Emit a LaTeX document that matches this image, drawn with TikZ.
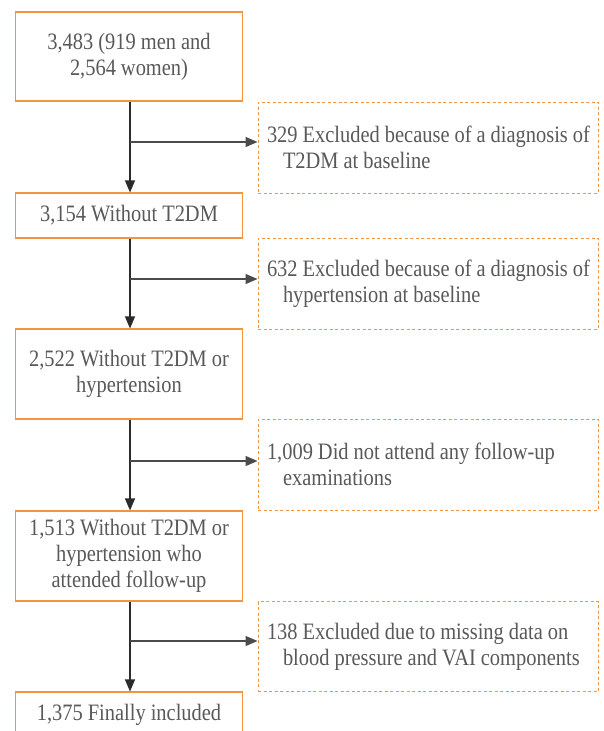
\documentclass[tikz,border=0pt]{standalone}
\usepackage{fontspec}
\setmainfont[FakeStretch=0.87]{Liberation Serif}
\usetikzlibrary{arrows.meta}
\definecolor{boxorange}{HTML}{F39440}
\definecolor{txtgray}{HTML}{595959}
\definecolor{arrowcol}{HTML}{2B2B2B}
\newcommand{\setsp}{\spaceskip=5pt\relax\xspaceskip=5pt\relax}
\begin{document}
\begin{tikzpicture}[x=1pt,y=-1pt,
  txtfont/.style={font=\fontsize{23.5}{26}\selectfont\setsp, text=txtgray},
  mainbox/.style={draw=boxorange, line width=1.1pt, txtfont, align=center,
    minimum width=227pt, inner sep=0pt},
  exclbox/.style={draw=boxorange, line width=1pt, dash pattern=on 3pt off 2.5pt,
    txtfont, align=left, text width=322pt, inner xsep=9pt, inner ysep=0pt,
    minimum width=340pt},
  flow/.style={draw=arrowcol, line width=1.2pt, -{Triangle[length=12pt,width=10pt]}},
  branch/.style={draw=arrowcol!85, line width=1.1pt, -{Triangle[length=12pt,width=10pt]}}
]
\clip (0,0) rectangle (604,731);
\fill[white] (0,0) rectangle (604,731);

% main boxes
\node[mainbox, minimum height=89pt] (b1) at (129,56.5) {\setsp 3,483 (919 men and\\\setsp 2,564 women)};
\node[mainbox, minimum height=45pt] (b2) at (129,215.5) {\setsp 3,154 Without T2DM};
\node[mainbox, minimum height=90pt] (b3) at (129,374) {\setsp 2,522 Without T2DM or\\hypertension};
\node[mainbox, minimum height=90pt] (b4) at (129,556) {\setsp 1,513 Without T2DM or\\\setsp hypertension who\\\setsp attended follow-up};
\node[mainbox, minimum height=45pt] (b5) at (129,714.5) {\setsp 1,375 Finally included};

% exclusion boxes
\node[exclbox, minimum height=91pt] (d1) at (428,147.5)
  {\setsp\mbox{329 Excluded because of a diagnosis of}\\\hspace*{16pt}T2DM at baseline};
\node[exclbox, minimum height=91pt] (d2) at (428,283.5)
  {\setsp\mbox{632 Excluded because of a diagnosis of}\\\hspace*{16pt}hypertension at baseline};
\node[exclbox, minimum height=91pt] (d3) at (428,464.5)
  {\setsp\mbox{1,009 Did not attend any follow-up}\\\hspace*{16pt}examinations};
\node[exclbox, minimum height=90pt] (d4) at (428,646.5)
  {\setsp\mbox{138 Excluded due to missing data on}\\\hspace*{16pt}\mbox{blood pressure and VAI components}};

% junction points
\coordinate (j1) at (130,142);
\coordinate (j2) at (130,279);
\coordinate (j3) at (130,461);
\coordinate (j4) at (130,641);

% vertical flow
\draw[flow] (b1.south -| j1) -- (b2.north -| j1);
\draw[flow] (b2.south -| j2) -- (b3.north -| j2);
\draw[flow] (b3.south -| j3) -- (b4.north -| j3);
\draw[flow] (b4.south -| j4) -- (b5.north -| j4);

% branches
\draw[branch] (j1) -- (j1 -| d1.west);
\draw[branch] (j2) -- (j2 -| d2.west);
\draw[branch] (j3) -- (j3 -| d3.west);
\draw[branch] (j4) -- (j4 -| d4.west);
\end{tikzpicture}
\end{document}
